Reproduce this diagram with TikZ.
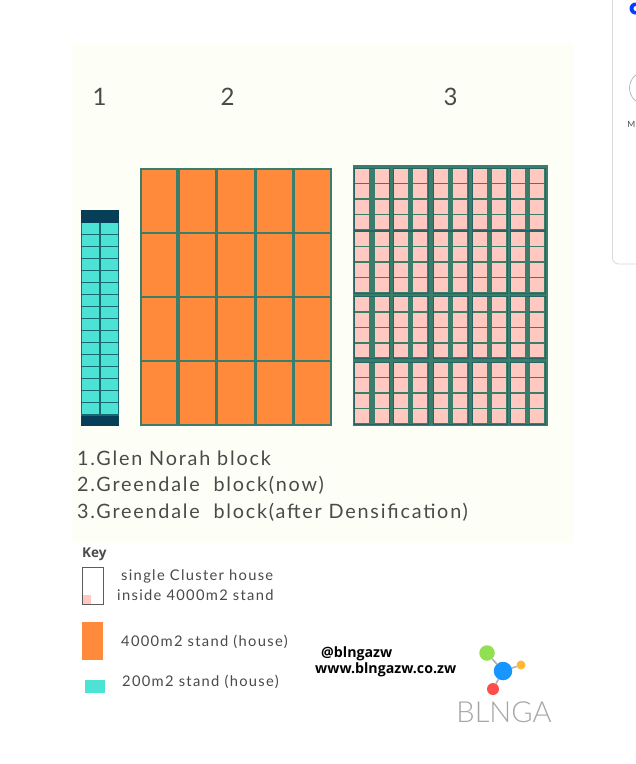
\documentclass[tikz,border=0pt]{standalone}
\usepackage{fontspec}
\setmainfont[LetterSpace=9]{Lato}
\newfontfamily\boldfont{Open Sans}
\newfontfamily\thinfont{Lato Light}
\definecolor{panelcol}{HTML}{FDFFF6}
\definecolor{tealcol}{HTML}{4DE3D4}
\definecolor{navycol}{HTML}{063F57}
\definecolor{orangecol}{HTML}{FF8A3C}
\definecolor{greencol}{HTML}{3A7D6B}
\definecolor{pinkcol}{HTML}{FFC9C2}
\definecolor{textcol}{HTML}{4A4A4A}
\tikzset{
    bigtext/.style={anchor=west, inner sep=0pt, text=textcol, font=\fontsize{19.8}{20}\selectfont},
    keytext/.style={anchor=west, inner sep=0pt, text=textcol, font=\fontsize{14.7}{15}\selectfont},
    numtext/.style={inner sep=0pt, text=textcol, font=\fontsize{24}{24}\selectfont},
    webtext/.style={anchor=west, inner sep=0pt, text=black, font=\boldfont\bfseries\fontsize{14.2}{14}\selectfont},
    logolink/.style={draw=gray!60, line width=1.6pt},
}
\begin{document}
\begin{tikzpicture}[x=1pt, y=-1pt]
    \useasboundingbox (0,0) rectangle (636,764);
    \fill[white] (0,0) rectangle (636,764);
    \fill[panelcol] (72,44) rectangle (574,543);

    % edge of the card on the right
    \begin{scope}
        \clip (0,0) rectangle (636,764);
        \draw[gray!30, line width=0.8pt, rounded corners=6pt] (660,-10) -- (612.5,-10) -- (612.5,264) -- (660,264);
        \fill[blue!75!cyan] (635.5,8.5) circle (6);
        \fill[white] (636,8.5) circle (2.5);
        \draw[gray!60, line width=0.7pt] (646,88) circle (16.5);
        \node[inner sep=0pt, anchor=east, text=textcol, font=\fontsize{8.5}{9}\selectfont] (cardm) at (635.5,124) {M};
    \end{scope}

    \node[numtext] (numa) at (99.5,96.5) {1};
    \node[numtext] (numb) at (227.5,96.5) {2};
    \node[numtext] (numc) at (450.5,96.5) {3};

    % block 1
    \begin{scope}[shift={(81,210)}]
        \fill[navycol!75!tealcol] (0,0) rectangle (38,216);
        \fill[navycol] (0,0) rectangle (38,13);
        \fill[navycol] (0,206) rectangle (38,216);
        \foreach \r in {0,...,15} {
            \fill[tealcol] (1.2,13.3+\r*12) rectangle (18.2,24+\r*12);
            \fill[tealcol] (20,13.3+\r*12) rectangle (37,24+\r*12);
        }
    \end{scope}

    % block 2
    \begin{scope}[shift={(140,168)}]
        \fill[greencol] (0,0) rectangle (191.5,258);
        \foreach \x/\w in {2/34, 40/34.5, 78/36, 117/35, 155/35} {
            \foreach \y/\h in {2/61.8, 66/61.8, 130/61.8, 194/62.2} {
                \fill[orangecol] (\x,\y) rectangle (\x+\w,\y+\h);
            }
        }
    \end{scope}

    % block 3
    \begin{scope}[shift={(353,165)}]
        \fill[greencol] (0,0) rectangle (195,261);
        \foreach \x in {1.5, 40, 80, 119, 157} {
            \foreach \y in {3, 66, 131.5, 197} {
                \draw[navycol!40!greencol, line width=0.8pt] (\x,\y) rectangle (\x+35,\y+62);
                \foreach \r in {0,...,3} {
                    \fill[pinkcol] (\x+0.6,\y+0.8+\r*15.4) rectangle (\x+14.6,\y+14.7+\r*15.4);
                    \fill[pinkcol] (\x+20.4,\y+0.8+\r*15.4) rectangle (\x+34.4,\y+14.7+\r*15.4);
                }
            }
        }
    \end{scope}

    \node[bigtext] (texta) at (77,458.5) {1.Glen Norah block};
    \node[bigtext] (textb) at (77,485.5) {2.Greendale\ \ block(now)};
    \node[bigtext] (textc) at (77,512.5) {3.Greendale\ \ block(after Densification)};

    % key
    \node[anchor=west, inner sep=0pt, text=textcol, font=\boldfont\bfseries\fontsize{13.5}{14}\selectfont] (keyhead) at (82,554.5) {Key};
    \fill[pinkcol] (83,595) rectangle (91,604);
    \draw[textcol!90, line width=0.9pt] (82.5,567) rectangle (103,604);
    \fill[orangecol] (82,622) rectangle (103,660);
    \fill[tealcol] (85,680) rectangle (104.5,692.5);
    \node[keytext] (keya) at (121,576) {single Cluster house};
    \node[keytext] (keyb) at (117,595.5) {inside 4000m2 stand};
    \node[keytext] (keyc) at (121,641.5) {4000m2 stand (house)};
    \node[keytext] (keyd) at (122,682) {200m2 stand (house)};

    \node[webtext] (handle) at (321,654) {@blngazw};
    \node[webtext] (website) at (315,670) {www.blngazw.co.zw};

    % logo
    \node[circle, fill=blue!10!cyan!60!blue!90!white, minimum size=18.5pt, inner sep=0pt] (hub) at (503,671) {};
    \node[circle, fill=green!55!yellow!70!gray!80!white, minimum size=15.5pt, inner sep=0pt] (leafa) at (487,653) {};
    \node[circle, fill=orange!70!yellow!80!white, minimum size=9pt, inner sep=0pt] (leafb) at (521,665) {};
    \node[circle, fill=red!70!white, minimum size=12pt, inner sep=0pt] (leafc) at (493,689) {};
    \draw[logolink] (hub) -- (leafa);
    \draw[logolink] (hub) -- (leafb);
    \draw[logolink] (hub) -- (leafc);
    \node[inner sep=0pt, text=gray!70, font=\thinfont\fontsize{29}{29}\selectfont] (logoname) at (504,712) {BLNGA};
\end{tikzpicture}
\end{document}
